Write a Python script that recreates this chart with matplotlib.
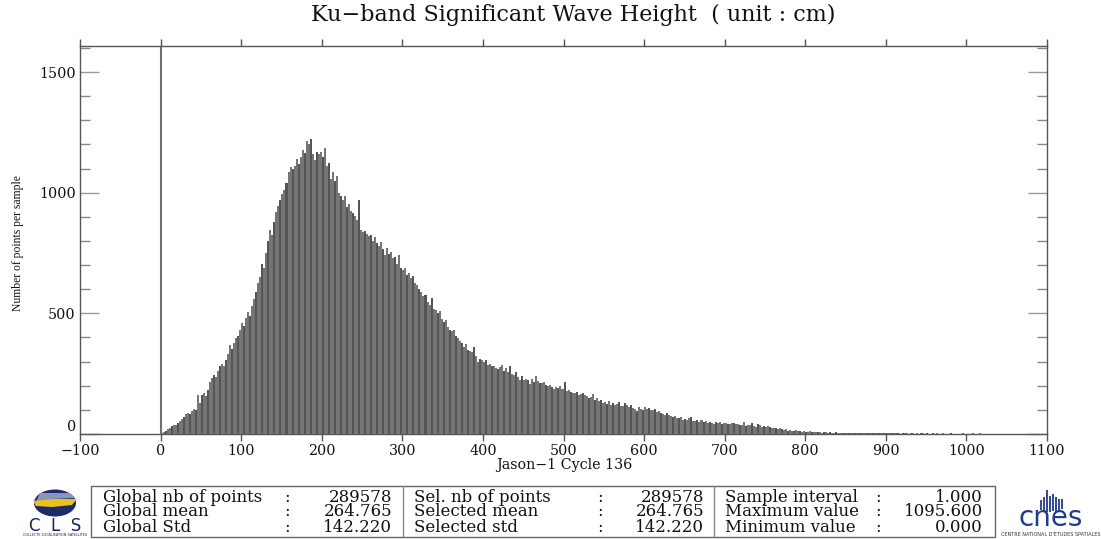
import numpy as np
from matplotlib import pyplot as plt
from matplotlib.patches import Ellipse, Rectangle, Polygon

# ── data ─────────────────────────────────────────────────────────────────────
BIN_STEP = 2.5
COUNTS_0 = [3, 8, 14, 20, 26, 34, 38, 36, 44, 52, 62, 70, 84, 88, 84, 96, 104, 100, 160, 128]
COUNTS_50 = [162, 170, 158, 182, 214, 232, 246, 236, 262, 282, 290, 280, 308, 332, 370, 352, 378, 396, 408, 432]
COUNTS_100 = [458, 446, 482, 504, 490, 530, 560, 590, 626, 652, 706, 690, 752, 800, 844, 826, 878, 920, 944, 970]
COUNTS_150 = [995, 1010, 1040, 1085, 1106, 1098, 1112, 1140, 1120, 1150, 1175, 1165, 1216, 1200, 1222, 1160, 1135, 1170, 1162, 1168]
COUNTS_200 = [1150, 1185, 1110, 1125, 1058, 1085, 1050, 1070, 1000, 985, 968, 985, 940, 955, 925, 915, 905, 885, 970, 845]
COUNTS_250 = [837, 842, 830, 820, 825, 800, 815, 790, 780, 795, 768, 740, 770, 745, 755, 730, 735, 705, 742, 690]
COUNTS_300 = [680, 690, 660, 668, 645, 655, 625, 617, 600, 590, 572, 578, 545, 535, 565, 520, 512, 500, 510, 478]
COUNTS_350 = [465, 472, 445, 431, 425, 432, 405, 398, 385, 378, 362, 372, 350, 345, 338, 360, 325, 298, 312, 305]
COUNTS_400 = [300, 305, 285, 290, 280, 282, 275, 268, 278, 285, 262, 272, 258, 280, 250, 245, 255, 238, 225, 240]
COUNTS_450 = [225, 230, 222, 208, 228, 215, 240, 218, 210, 212, 215, 205, 200, 205, 195, 188, 196, 192, 200, 185]
COUNTS_500 = [215, 178, 182, 176, 170, 168, 172, 160, 166, 170, 162, 158, 150, 155, 165, 142, 148, 135, 140, 128]
COUNTS_550 = [132, 125, 138, 120, 128, 122, 125, 132, 118, 115, 128, 122, 112, 120, 108, 102, 96, 110, 104, 100]
COUNTS_600 = [112, 105, 108, 100, 98, 104, 92, 96, 88, 84, 80, 86, 78, 74, 72, 76, 68, 66, 72, 60]
COUNTS_650 = [62, 58, 66, 70, 52, 54, 60, 50, 56, 48, 52, 46, 50, 44, 42, 50, 46, 48, 40, 44]
COUNTS_700 = [46, 42, 40, 44, 46, 40, 42, 38, 36, 48, 34, 38, 36, 44, 32, 30, 40, 36, 30, 34]
COUNTS_750 = [30, 32, 28, 26, 24, 26, 22, 24, 20, 18, 22, 14, 16, 12, 14, 16, 12, 14, 10, 12]
COUNTS_800 = [10, 9, 11, 8, 9, 7, 8, 9, 6, 7, 8, 6, 7, 5, 6, 7, 5, 6, 5, 6]
COUNTS_850 = [5, 6, 4, 5, 6, 4, 5, 4, 5, 3, 4, 5, 4, 3, 4, 3, 4, 5, 3, 4]
COUNTS_900 = [4, 3, 4, 3, 3, 4, 3, 0, 3, 4, 3, 0, 3, 3, 0, 3, 2, 3, 3, 0]
COUNTS_950 = [3, 2, 0, 3, 2, 3, 0, 2, 3, 2, 0, 2, 3, 0, 2, 0, 2, 2, 3, 0]
COUNTS_1000 = [2, 0, 2, 3, 0, 2, 3, 0, 2, 0, 2, 2, 0, 2, 0, 2, 0, 0, 2, 0]
COUNTS_1050 = [2, 0, 0, 2, 0, 2, 0, 0, 2, 0, 0, 2, 0, 0, 0, 2, 0, 0, 1, 0]

XTICKS = list(range(-100, 1101, 100))
YTICKS_MAJOR = [0, 500, 1000, 1500]
YTICKS_MINOR = [100, 200, 300, 400, 600, 700, 800, 900, 1100, 1200, 1300, 1400, 1600]

TITLE = 'Ku\u2212band Significant Wave Height  ( unit : cm)'
XLABEL = 'Jason\u22121 Cycle 136'
YLABEL = 'Number of points per sample'

STATS_NAMES_1 = ['Global nb of points', 'Global mean', 'Global Std']
STATS_VALUES_1 = ['289578', '264.765', '142.220']
STATS_NAMES_2 = ['Sel. nb of points', 'Selected mean', 'Selected std']
STATS_VALUES_2 = ['289578', '264.765', '142.220']
STATS_NAMES_3 = ['Sample interval', 'Maximum value', 'Minimum value']
STATS_VALUES_3 = ['1.000', '1095.600', '0.000']

# ── figure, pixel helpers ────────────────────────────────────────────────────
W, H = 1101, 539
LINE = '#555555'
BAR = '#757575'
BAR_DARK = '#555555'
plt.rcParams['font.family'] = ['DejaVu Serif']

fig = plt.figure(figsize=(W / 100, H / 100), dpi=100)
L, R, T, B = 80, 1047, 46, 434
ax = fig.add_axes([L / W, 1 - B / H, (R - L) / W, (B - T) / H])

# ── histogram ────────────────────────────────────────────────────────────────
counts = np.array(COUNTS_0 + COUNTS_50 + COUNTS_100 + COUNTS_150 + COUNTS_200
                  + COUNTS_250 + COUNTS_300 + COUNTS_350 + COUNTS_400 + COUNTS_450
                  + COUNTS_500 + COUNTS_550 + COUNTS_600 + COUNTS_650 + COUNTS_700
                  + COUNTS_750 + COUNTS_800 + COUNTS_850 + COUNTS_900 + COUNTS_950
                  + COUNTS_1000 + COUNTS_1050)
left = np.arange(len(counts)) * BIN_STEP
# the dark moire stripes of the original come every third bin here
colors = [BAR_DARK if i % 3 == 2 else BAR for i in range(len(counts))]
ax.bar(left, counts, width=BIN_STEP, align='edge', color=colors, linewidth=0, zorder=3)
ax.axvline(0, color='#707070', lw=1.5, zorder=2)

ax.set_xlim(-100, 1100)
ax.set_ylim(0, 1608)
ax.set_xticks(XTICKS)
ax.set_yticks(YTICKS_MAJOR)
ax.set_yticks(YTICKS_MINOR, minor=True)
ax.tick_params(axis='x', which='major', direction='out', top=True, length=5,
               width=1, color=LINE, labelsize=10.3, pad=2.5, labelcolor='#111111')
ax.tick_params(axis='y', which='major', direction='in', right=True, length=14,
               width=1, color='#999999', labelsize=10.3, pad=3, labelcolor='#111111')
ax.tick_params(axis='y', which='minor', direction='in', right=True, length=7.5,
               width=1, color='#888888')
for s in ax.spines.values():
    s.set_color(LINE)
    s.set_linewidth(1)
ax.get_yticklabels()[0].set_va('bottom')

# ── overlay in pixel coordinates for texts, stats box and logos ──────────────
ov = fig.add_axes([0, 0, 1, 1], facecolor='none')
ov.set_xlim(0, W)
ov.set_ylim(H, 0)
ov.axis('off')

ov.text(573, 15, TITLE, ha='center', va='center', fontsize=16, color='#111111')
ov.text(564, 465, XLABEL, ha='center', va='center', fontsize=10.3, color='#111111')
ov.text(18, 243, YLABEL, ha='center', va='center', rotation=90, fontsize=8.4, color='#111111',
        family=['Liberation Serif', 'DejaVu Serif'])

# stats box
ov.add_patch(Rectangle((91, 486), 904, 51, fc='none', ec='#666666', lw=1))
for xd in (403, 714):
    ov.plot([xd, xd], [486, 537], color='#888888', lw=1)
ROWS_Y = [497, 512, 527]
BLOCKS = [(103, 287, 392, STATS_NAMES_1, STATS_VALUES_1),
          (414, 600, 704, STATS_NAMES_2, STATS_VALUES_2),
          (725, 878, 983, STATS_NAMES_3, STATS_VALUES_3)]
for (x_name, x_colon, x_val, names, values) in BLOCKS:
    for (y, name, value) in zip(ROWS_Y, names, values):
        kw = dict(va='center', fontsize=12, color='#111111')
        ov.text(x_name, y, name, ha='left', **kw)
        ov.text(x_colon, y, ':', ha='center', **kw)
        ov.text(x_val, y, value, ha='right', **kw)

# CLS logo
SANS = ['DejaVu Sans']
ov.add_patch(Ellipse((55, 503), 42, 27, fc='#1d2a6b', ec='none'))
ov.add_patch(Polygon([[40, 493], [70, 493], [75, 498], [52, 499], [35, 504]],
                     fc='#8a95b8', ec='none'))
ov.add_patch(Polygon([[33, 501], [52, 499], [77, 499], [72, 505], [52, 507], [36, 506]],
                     fc='#e8c020', ec='none'))
ov.text(55, 526, 'C  L  S', ha='center', va='center', fontsize=12, color='#14235f', family=SANS)
ov.text(55, 535, 'COLLECTE LOCALISATION SATELLITES', ha='center', va='center', fontsize=2.4,
        color='#14235f', family=SANS)

# CNES logo
for (xb, top, bottom) in [(1041, 500, 510), (1044, 497, 512), (1047, 490, 512), (1050, 496, 512),
                          (1053, 494, 511), (1056, 497, 512), (1059, 499, 512), (1062, 499, 509)]:
    ov.plot([xb, xb], [top, bottom], color='#1f3a93', lw=1.3, solid_capstyle='butt')
ov.text(1051, 518, 'cnes', ha='center', va='center', fontsize=20, color='#1f3a93', family=SANS)
ov.text(1051, 535, "CENTRE NATIONAL D'ETUDES SPATIALES", ha='center', va='center', fontsize=3.5,
        color='#333333', family=SANS)

fig.savefig('out.png', dpi=100)
